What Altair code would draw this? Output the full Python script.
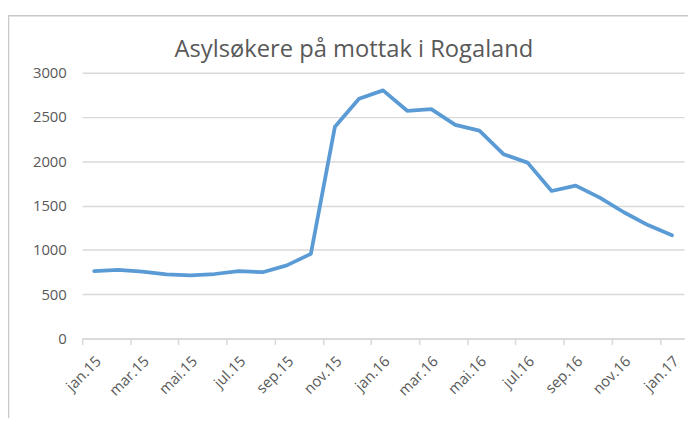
import altair as alt
import pandas as pd

# Month labels (Norwegian), jan.15 .. jan.17
months = ["jan.15", "feb.15", "mar.15", "apr.15", "mai.15", "jun.15", "jul.15", "aug.15",
          "sep.15", "okt.15", "nov.15", "des.15",
          "jan.16", "feb.16", "mar.16", "apr.16", "mai.16", "jun.16", "jul.16", "aug.16",
          "sep.16", "okt.16", "nov.16", "des.16", "jan.17"]
# Asylum seekers in reception centres, Rogaland
values = [760, 775, 755, 725, 712, 728, 760, 748, 825, 955,
          2390, 2705, 2800, 2570, 2588, 2410, 2345, 2080, 1985, 1665,
          1725, 1590, 1425, 1280, 1165]
tick_idx = list(range(0, 25, 2))
y_ticks = [0, 500, 1000, 1500, 2000, 2500, 3000]
title_text = "Asylsøkere på mottak i Rogaland"

df = pd.DataFrame({"i": [k + 0.5 for k in range(len(values))],
                   "m": months, "v": values})

label_arr = "[" + ",".join("'" + m + "'" for m in months) + "]"

GREY = "#595959"
GRID = "#d9d9d9"

line = alt.Chart(df).mark_line(color="#5B9BD5", strokeWidth=3.8, strokeJoin="round",
                               strokeCap="round").encode(
    x=alt.X("i:Q", scale=alt.Scale(domain=[0, 25], nice=False, zero=False),
            axis=alt.Axis(values=tick_idx, labelExpr=label_arr + "[datum.value]",
                          grid=False, domainColor=GRID, domainWidth=1.5,
                          tickColor=GRID, tickWidth=1.5, tickSize=6,
                          labelAngle=-45, labelAlign="right", labelBaseline="middle",
                          labelOffset=16, labelPadding=14,
                          labelFont="Open Sans", labelFontSize=15, labelColor=GREY,
                          title=None)),
    y=alt.Y("v:Q", scale=alt.Scale(domain=[0, 3000], nice=False),
            axis=alt.Axis(values=y_ticks, format="d", grid=True, gridColor=GRID,
                          gridWidth=1.5, domain=False, ticks=False, labelPadding=16,
                          labelFont="Open Sans", labelFontSize=15, labelColor=GREY,
                          title=None)),
)

one = pd.DataFrame({"t": [title_text]})

border = alt.Chart(one).mark_rect(
    fill=None, stroke="#c8c8c8", strokeWidth=1.5).encode(
    x=alt.value(-74.5), y=alt.value(-57.5), x2=alt.value(720), y2=alt.value(420))

title = alt.Chart(one).mark_text(
    font="Open Sans", fontSize=24, color=GREY, align="center",
    baseline="alphabetic").encode(
    text="t:N", x=alt.value(275), y=alt.value(-16))

chart = alt.layer(border, title, line).properties(
    width=609, height=269,
    autosize=alt.AutoSizeParams(type="none"),
    padding={"left": 75, "top": 63, "right": 4, "bottom": 78},
).configure_view(stroke=None)

chart.save("out.html", embed_options={"renderer": "svg", "actions": False})
